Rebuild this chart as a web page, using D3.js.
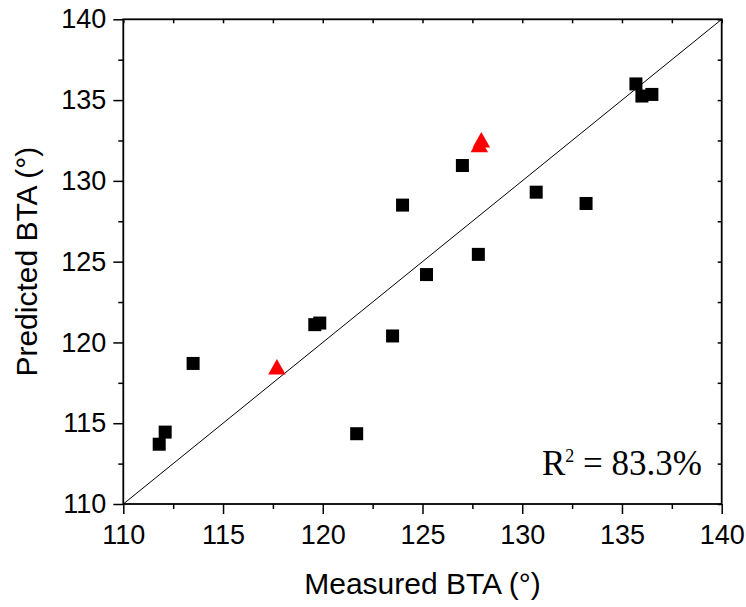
<!DOCTYPE html>
<html>
<head>
<meta charset="utf-8">
<script src="https://cdn.jsdelivr.net/npm/d3@7"></script>
<style>
  html, body { margin: 0; padding: 0; background: #fff; }
  svg { display: block; }
</style>
</head>
<body>
<svg id="chart" width="746" height="607"></svg>
<script>
// Measured vs predicted BTA (degrees)
const squareMeasured  = [111.8, 112.1, 113.5, 119.6, 119.85, 121.7, 123.5, 124.0, 125.2, 127.0, 127.8, 130.7, 133.2, 135.7, 136.0, 136.5];
const squarePredicted = [113.7, 114.45, 118.7, 121.1, 121.2, 114.35, 120.4, 128.5, 124.2, 130.95, 125.45, 129.3, 128.6, 136.0, 135.25, 135.35];
const triMeasured  = [117.7, 127.85, 127.95];
const triPredicted = [118.5, 132.25, 132.55];
const majorTicks = [110, 115, 120, 125, 130, 135, 140];
const minorTicks = [112.5, 117.5, 122.5, 127.5, 132.5, 137.5];
const domain = [110, 140];
const r2Value = "83.3%";

const svg = d3.select("#chart");
const plot = { left: 123.3, right: 721.7, top: 19.3, bottom: 504 };

const x = d3.scaleLinear().domain(domain).range([plot.left, plot.right]);
const y = d3.scaleLinear().domain(domain).range([plot.bottom, plot.top]);

const sans = "'Liberation Sans', Arial, sans-serif";
const serif = "'Liberation Serif', 'Times New Roman', serif";

// 1:1 reference line
svg.append("line")
  .attr("x1", x(domain[0])).attr("y1", y(domain[0]))
  .attr("x2", x(domain[1])).attr("y2", y(domain[1]))
  .attr("stroke", "#000").attr("stroke-width", 1);

// Square markers
const sq = 13;
svg.append("g").selectAll("rect")
  .data(d3.range(squareMeasured.length))
  .join("rect")
  .attr("x", i => x(squareMeasured[i]) - sq / 2)
  .attr("y", i => y(squarePredicted[i]) - sq / 2)
  .attr("width", sq).attr("height", sq)
  .attr("fill", "#000");

// Triangle markers (centered on their bounding box)
const tw = 17.5, th = 15.5;
svg.append("g").selectAll("path")
  .data(d3.range(triMeasured.length))
  .join("path")
  .attr("d", i => {
    const cx = x(triMeasured[i]), cy = y(triPredicted[i]);
    return `M${cx},${cy - th / 2}L${cx + tw / 2},${cy + th / 2}L${cx - tw / 2},${cy + th / 2}Z`;
  })
  .attr("fill", "#ff0000");

function styleAxis(g) {
  g.select(".domain").remove();
  g.selectAll("line").attr("stroke", "#000").attr("stroke-width", 1.5);
  g.selectAll("text").attr("font-family", sans).attr("font-size", 27).attr("fill", "#000");
}

// Major ticks with labels
svg.append("g").attr("transform", `translate(0,${plot.bottom})`)
  .call(d3.axisBottom(x).tickValues(majorTicks).tickSize(10).tickPadding(11).tickFormat(d3.format("d")))
  .call(styleAxis);
svg.append("g").attr("transform", `translate(${plot.left},0)`)
  .call(d3.axisLeft(y).tickValues(majorTicks).tickSize(10).tickPadding(7).tickFormat(d3.format("d")))
  .call(styleAxis);

// Minor ticks outward on left and bottom
svg.append("g").attr("transform", `translate(0,${plot.bottom})`)
  .call(d3.axisBottom(x).tickValues(minorTicks).tickSize(5).tickFormat(""))
  .call(styleAxis);
svg.append("g").attr("transform", `translate(${plot.left},0)`)
  .call(d3.axisLeft(y).tickValues(minorTicks).tickSize(5).tickFormat(""))
  .call(styleAxis);

// Inward ticks on top and right
const allTicks = majorTicks.concat(minorTicks);
svg.append("g").attr("transform", `translate(0,${plot.top})`)
  .call(d3.axisBottom(x).tickValues(allTicks).tickSize(4).tickFormat(""))
  .call(styleAxis);
svg.append("g").attr("transform", `translate(${plot.right},0)`)
  .call(d3.axisLeft(y).tickValues(allTicks).tickSize(4).tickFormat(""))
  .call(styleAxis);

// Frame
svg.append("rect")
  .attr("x", plot.left).attr("y", plot.top)
  .attr("width", plot.right - plot.left).attr("height", plot.bottom - plot.top)
  .attr("fill", "none").attr("stroke", "#000").attr("stroke-width", 1.8);

// Axis titles
svg.append("text")
  .attr("x", (plot.left + plot.right) / 2).attr("y", 594)
  .attr("text-anchor", "middle")
  .attr("font-family", sans).attr("font-size", 30).attr("fill", "#000")
  .text("Measured BTA (°)");

svg.append("text")
  .attr("transform", `translate(37,${(plot.top + plot.bottom) / 2}) rotate(-90)`)
  .attr("text-anchor", "middle")
  .attr("font-family", sans).attr("font-size", 30).attr("fill", "#000")
  .text("Predicted BTA (°)");

// Coefficient of determination
const r2 = svg.append("text")
  .attr("x", 542).attr("y", 475)
  .attr("font-family", serif).attr("font-size", 35).attr("fill", "#000");
r2.append("tspan").text("R");
r2.append("tspan").attr("font-size", 18).attr("dy", -13).text("2");
r2.append("tspan").attr("dy", 13).text(" = " + r2Value);
</script>
</body>
</html>
